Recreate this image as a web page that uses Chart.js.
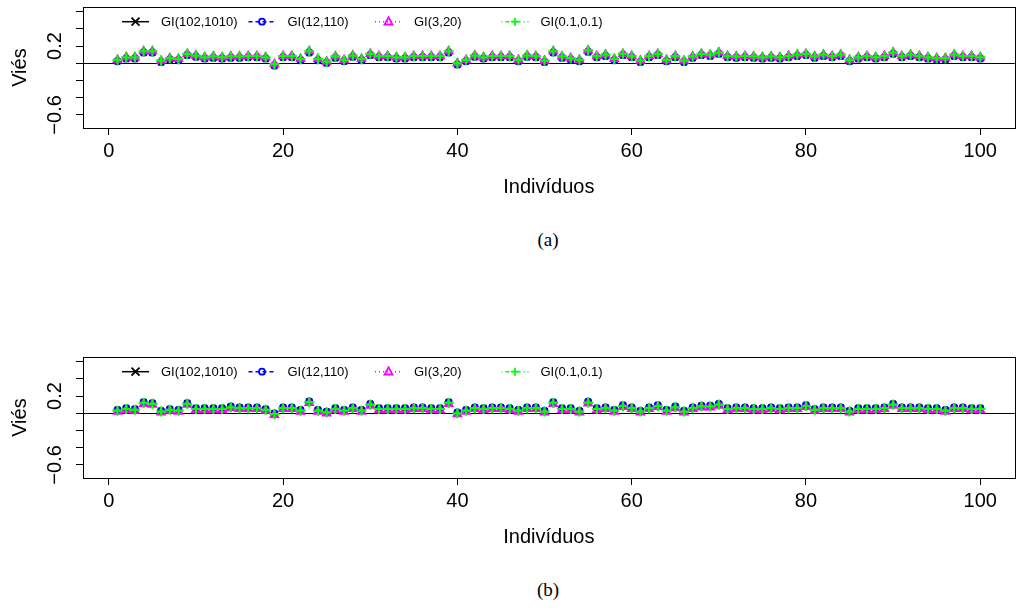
<!DOCTYPE html>
<html>
<head>
<meta charset="utf-8">
<script src="https://cdn.jsdelivr.net/npm/chart.js@4.4.1/dist/chart.umd.min.js"></script>
<style>
  html, body { margin: 0; padding: 0; background: #fff; overflow: hidden; width: 1016px; height: 612px; }
  .panel { position: absolute; left: 0; }
  #panelA { top: 0; }
  #panelB { top: 350px; }
  .cap { position: absolute; font-family: "Liberation Serif", "DejaVu Serif", serif; font-size: 19px; color: #000;
         transform: translate(-50%, -50%); white-space: nowrap; }
</style>
</head>
<body>
<div class="panel" id="panelA"><canvas id="chartA" width="1022" height="210"></canvas></div>
<div class="panel" id="panelB"><canvas id="chartB" width="1022" height="210"></canvas></div>
<div class="cap" style="left:548px; top:240px;">(a)</div>
<div class="cap" style="left:548px; top:590px;">(b)</div>
<script>
// Series names (legend)
const seriesNames = ['GI(102,1010)', 'GI(12,110)', 'GI(3,20)', 'GI(0.1,0.1)'];

// Individuals 1..100 (x axis)
const individuos = Array.from({ length: 100 }, (_, i) => i + 1);

// Axis ticks
const xTicks = [0, 20, 40, 60, 80, 100];
const yTicks = [-0.6, -0.4, -0.2, 0, 0.2, 0.4, 0.6];
const yTickLabels = ['\u22120.6', '', '', '', '0.2', '', ''];

// Panel (a): bias per individual
const biasA_102_1010 = [
  0.02,0.05,0.05,0.12,0.12,0.01,0.04,0.03,0.09,0.07,
  0.05,0.06,0.05,0.06,0.06,0.065,0.065,0.05,-0.03,0.065,
  0.065,0.03,0.12,0.03,0.0,0.06,0.02,0.07,0.03,0.09,
  0.065,0.065,0.05,0.05,0.065,0.065,0.065,0.065,0.12,-0.02,
  0.02,0.07,0.05,0.065,0.065,0.065,0.02,0.07,0.065,0.01,
  0.12,0.06,0.04,0.02,0.13,0.065,0.08,0.03,0.09,0.065,
  0.01,0.065,0.09,0.02,0.065,0.01,0.06,0.09,0.08,0.105,
  0.065,0.06,0.065,0.06,0.05,0.06,0.05,0.065,0.08,0.09,
  0.06,0.08,0.065,0.08,0.02,0.05,0.065,0.05,0.065,0.105,
  0.065,0.08,0.065,0.05,0.04,0.04,0.08,0.065,0.065,0.05];
const biasA_12_110 = [
  0.025,0.055,0.055,0.125,0.125,0.015,0.045,0.035,0.095,0.075,
  0.055,0.065,0.055,0.065,0.065,0.07,0.07,0.055,-0.025,0.07,
  0.07,0.035,0.125,0.035,0.005,0.065,0.025,0.075,0.035,0.095,
  0.07,0.07,0.055,0.055,0.07,0.07,0.07,0.07,0.125,-0.015,
  0.025,0.075,0.055,0.07,0.07,0.07,0.025,0.075,0.07,0.015,
  0.125,0.065,0.045,0.025,0.135,0.07,0.085,0.035,0.095,0.07,
  0.015,0.07,0.095,0.025,0.07,0.015,0.065,0.095,0.085,0.11,
  0.07,0.065,0.07,0.065,0.055,0.065,0.055,0.07,0.085,0.095,
  0.065,0.085,0.07,0.085,0.025,0.055,0.07,0.055,0.07,0.11,
  0.07,0.085,0.07,0.055,0.045,0.045,0.085,0.07,0.07,0.055];
const biasA_3_20 = [
  0.04,0.07,0.07,0.14,0.14,0.03,0.06,0.05,0.11,0.09,
  0.07,0.08,0.07,0.08,0.08,0.085,0.085,0.07,-0.01,0.085,
  0.085,0.05,0.14,0.05,0.02,0.08,0.04,0.09,0.05,0.11,
  0.085,0.085,0.07,0.07,0.085,0.085,0.085,0.085,0.14,0.0,
  0.04,0.09,0.07,0.085,0.085,0.085,0.04,0.09,0.085,0.03,
  0.14,0.08,0.06,0.04,0.15,0.085,0.10,0.05,0.11,0.085,
  0.03,0.085,0.11,0.04,0.085,0.03,0.08,0.11,0.10,0.125,
  0.085,0.08,0.085,0.08,0.07,0.08,0.07,0.085,0.10,0.11,
  0.08,0.10,0.085,0.10,0.04,0.07,0.085,0.07,0.085,0.125,
  0.085,0.10,0.085,0.07,0.06,0.06,0.10,0.085,0.085,0.07];
const biasA_01_01 = [
  0.04,0.07,0.07,0.14,0.14,0.03,0.06,0.05,0.11,0.09,
  0.07,0.08,0.07,0.08,0.08,0.085,0.085,0.07,-0.01,0.085,
  0.085,0.05,0.14,0.05,0.02,0.08,0.04,0.09,0.05,0.11,
  0.085,0.085,0.07,0.07,0.085,0.085,0.085,0.085,0.14,0.0,
  0.04,0.09,0.07,0.085,0.085,0.085,0.04,0.09,0.085,0.03,
  0.14,0.08,0.06,0.04,0.15,0.085,0.10,0.05,0.11,0.085,
  0.03,0.085,0.11,0.04,0.085,0.03,0.08,0.11,0.10,0.125,
  0.085,0.08,0.085,0.08,0.07,0.08,0.07,0.085,0.10,0.11,
  0.08,0.10,0.085,0.10,0.04,0.07,0.085,0.07,0.085,0.125,
  0.085,0.10,0.085,0.07,0.06,0.06,0.10,0.085,0.085,0.07];

// Panel (b): bias per individual
const biasB_102_1010 = [
  0.04,0.06,0.05,0.13,0.12,0.03,0.05,0.04,0.12,0.06,
  0.06,0.06,0.06,0.08,0.07,0.07,0.07,0.05,0.0,0.07,
  0.07,0.04,0.14,0.04,0.02,0.06,0.04,0.07,0.04,0.11,
  0.06,0.06,0.06,0.06,0.07,0.07,0.06,0.06,0.13,0.01,
  0.04,0.07,0.06,0.07,0.07,0.06,0.04,0.07,0.07,0.03,
  0.13,0.06,0.06,0.03,0.135,0.06,0.07,0.04,0.095,0.07,
  0.03,0.07,0.095,0.04,0.08,0.03,0.07,0.09,0.09,0.11,
  0.06,0.07,0.07,0.06,0.06,0.07,0.06,0.07,0.07,0.095,
  0.05,0.07,0.07,0.07,0.03,0.06,0.06,0.06,0.07,0.11,
  0.07,0.07,0.07,0.06,0.06,0.04,0.07,0.07,0.06,0.06];
const biasB_12_110 = [
  0.038,0.058,0.048,0.128,0.118,0.028,0.048,0.038,0.118,0.058,
  0.058,0.058,0.058,0.078,0.068,0.068,0.068,0.048,-0.002,0.068,
  0.068,0.038,0.138,0.038,0.018,0.058,0.038,0.068,0.038,0.108,
  0.058,0.058,0.058,0.058,0.068,0.068,0.058,0.058,0.128,0.008,
  0.038,0.068,0.058,0.068,0.068,0.058,0.038,0.068,0.068,0.028,
  0.128,0.058,0.058,0.028,0.133,0.058,0.068,0.038,0.093,0.068,
  0.028,0.068,0.093,0.038,0.078,0.028,0.068,0.088,0.088,0.108,
  0.058,0.068,0.068,0.058,0.058,0.068,0.058,0.068,0.068,0.093,
  0.048,0.068,0.068,0.068,0.028,0.058,0.058,0.058,0.068,0.108,
  0.068,0.068,0.068,0.058,0.058,0.038,0.068,0.068,0.058,0.058];
const biasB_3_20 = [
  0.02,0.04,0.03,0.11,0.10,0.01,0.03,0.02,0.10,0.04,
  0.04,0.04,0.04,0.06,0.05,0.05,0.05,0.03,-0.02,0.05,
  0.05,0.02,0.12,0.02,0.0,0.04,0.02,0.05,0.02,0.09,
  0.04,0.04,0.04,0.04,0.05,0.05,0.04,0.04,0.11,-0.01,
  0.02,0.05,0.04,0.05,0.05,0.04,0.02,0.05,0.05,0.01,
  0.11,0.04,0.04,0.01,0.115,0.04,0.05,0.02,0.075,0.05,
  0.01,0.05,0.075,0.02,0.06,0.01,0.05,0.07,0.07,0.09,
  0.04,0.05,0.05,0.04,0.04,0.05,0.04,0.05,0.05,0.075,
  0.03,0.05,0.05,0.05,0.01,0.04,0.04,0.04,0.05,0.09,
  0.05,0.05,0.05,0.04,0.04,0.02,0.05,0.05,0.04,0.04];
const biasB_01_01 = [
  0.03,0.05,0.04,0.12,0.11,0.02,0.04,0.03,0.11,0.05,
  0.05,0.05,0.05,0.07,0.06,0.06,0.06,0.04,-0.01,0.06,
  0.06,0.03,0.13,0.03,0.01,0.05,0.03,0.06,0.03,0.10,
  0.05,0.05,0.05,0.05,0.06,0.06,0.05,0.05,0.12,0.0,
  0.03,0.06,0.05,0.06,0.06,0.05,0.03,0.06,0.06,0.02,
  0.12,0.05,0.05,0.02,0.125,0.05,0.06,0.03,0.085,0.06,
  0.02,0.06,0.085,0.03,0.07,0.02,0.06,0.08,0.08,0.10,
  0.05,0.06,0.06,0.05,0.05,0.06,0.05,0.06,0.06,0.085,
  0.04,0.06,0.06,0.06,0.02,0.05,0.05,0.05,0.06,0.10,
  0.06,0.06,0.06,0.05,0.05,0.03,0.06,0.06,0.05,0.05];

// Visual style of each series (line + symbol), in legend order
const seriesStyles = [
  { color: '#000000', dash: [],           point: 'crossRot', radius: 4,   pw: 2,   order: 3 },
  { color: '#0000ff', dash: [4, 3],       point: 'circle',   radius: 3,   pw: 2,   order: 2 },
  { color: '#ff00ff', dash: [1, 3],       point: 'triangle', radius: 4.2, pw: 2,   order: 1 },
  { color: '#00ff00', dash: [1, 3, 4, 3], point: 'cross',    radius: 5,   pw: 2.2, order: 0 }
];

const FONT = '"Liberation Sans", Arial, Helvetica, sans-serif';

// draws one legend symbol at (x, y)
function legendSymbol(ctx, kind, x, y, r) {
  ctx.beginPath();
  if (kind === 'crossRot') {
    ctx.moveTo(x - r, y - r); ctx.lineTo(x + r, y + r);
    ctx.moveTo(x - r, y + r); ctx.lineTo(x + r, y - r);
  } else if (kind === 'circle') {
    ctx.arc(x, y, r, 0, Math.PI * 2);
  } else if (kind === 'triangle') {
    ctx.moveTo(x, y - r * 1.1); ctx.lineTo(x + r, y + r * 0.7); ctx.lineTo(x - r, y + r * 0.7); ctx.closePath();
  } else {
    ctx.moveTo(x - r, y); ctx.lineTo(x + r, y);
    ctx.moveTo(x, y - r); ctx.lineTo(x, y + r);
  }
  ctx.stroke();
}

const framePlugin = {
  id: 'rframe',
  beforeDatasetsDraw(chart) {
    const { ctx, chartArea: a, scales: { y } } = chart;
    const y0 = Math.round(y.getPixelForValue(0)) + 0.5;
    ctx.save();
    ctx.strokeStyle = '#000';
    ctx.lineWidth = 1;
    ctx.beginPath();
    ctx.moveTo(a.left, y0);
    ctx.lineTo(a.right, y0);
    ctx.stroke();
    ctx.restore();
  },
  afterDraw(chart) {
    const { ctx, chartArea: a, scales: { y } } = chart;
    ctx.save();
    // plot box
    ctx.strokeStyle = '#000';
    ctx.lineWidth = 1;
    ctx.strokeRect(Math.round(a.left) + 0.5, Math.round(a.top) + 0.5,
                   Math.round(a.right - a.left), Math.round(a.bottom - a.top));
    // y tick labels, written parallel to the axis
    ctx.fillStyle = '#000';
    ctx.font = '20px ' + FONT;
    ctx.textAlign = 'center';
    ctx.textBaseline = 'middle';
    yTicks.forEach((v, i) => {
      if (!yTickLabels[i]) return;
      const py = y.getPixelForValue(v);
      ctx.save();
      ctx.translate(55, py);
      ctx.rotate(-Math.PI / 2);
      ctx.fillText(yTickLabels[i], 0, 0);
      ctx.restore();
    });
    // legend across the top of the plot
    const ly = a.top + 14;
    ctx.font = '13px ' + FONT;
    ctx.textAlign = 'left';
    chart.data.datasets.forEach((ds, i) => {
      const st = seriesStyles[i];
      const x0 = a.left + 39 + i * 126.5;
      ctx.strokeStyle = st.color;
      ctx.lineWidth = 1.5;
      ctx.setLineDash(st.dash);
      ctx.beginPath();
      ctx.moveTo(x0, ly + 0.5);
      ctx.lineTo(x0 + 27, ly + 0.5);
      ctx.stroke();
      ctx.setLineDash([]);
      ctx.lineWidth = 1.8;
      legendSymbol(ctx, st.point, x0 + 13.5, ly + 0.5, st.point === 'circle' ? 3 : 4);
      ctx.fillStyle = '#000';
      ctx.fillText(ds.label, x0 + 39, ly + 1);
    });
    ctx.restore();
  }
};

function makePanel(canvasId, seriesList) {
  const datasets = seriesList.map((vals, i) => {
    const st = seriesStyles[i];
    return {
      label: seriesNames[i],
      data: vals.map((v, k) => ({ x: individuos[k], y: v })),
      showLine: false,
      borderColor: st.color,
      backgroundColor: 'rgba(0,0,0,0)',
      borderWidth: 1,
      borderDash: st.dash,
      pointStyle: st.point,
      pointRadius: st.radius,
      pointBorderWidth: st.pw,
      pointBorderColor: st.color,
      pointBackgroundColor: 'rgba(0,0,0,0)',
      tension: 0,
      order: st.order
    };
  });

  return new Chart(document.getElementById(canvasId), {
    type: 'line',
    data: { datasets },
    plugins: [framePlugin],
    options: {
      responsive: false,
      animation: false,
      devicePixelRatio: 1,
      layout: { padding: { top: 7, right: 1, left: 0, bottom: 0 } },
      plugins: { legend: { display: false }, tooltip: { enabled: false } },
      scales: {
        x: {
          type: 'linear',
          min: -2.96,
          max: 103.96,
          afterBuildTicks: s => { s.ticks = xTicks.map(v => ({ value: v })); },
          afterFit: s => { s.height = 82; },
          grid: { display: true, drawOnChartArea: false, drawTicks: true, tickLength: 7, color: '#000', lineWidth: 1 },
          border: { display: false },
          ticks: { color: '#000', font: { family: FONT, size: 20 }, padding: 4, maxRotation: 0, autoSkip: false },
          title: { display: true, text: 'Indivíduos', color: '#000', font: { family: FONT, size: 20 }, padding: { top: 0, bottom: 11 } }
        },
        y: {
          type: 'linear',
          min: -0.752,
          max: 0.652,
          afterBuildTicks: s => { s.ticks = yTicks.map(v => ({ value: v })); },
          afterFit: s => { s.width = 83; },
          grid: { display: true, drawOnChartArea: false, drawTicks: true, tickLength: 7, color: '#000', lineWidth: 1 },
          border: { display: false },
          ticks: { display: false },
          title: { display: true, text: 'Viés', color: '#000', font: { family: FONT, size: 20 }, padding: { top: 8, bottom: 0 } }
        }
      }
    }
  });
}

makePanel('chartA', [biasA_102_1010, biasA_12_110, biasA_3_20, biasA_01_01]);
makePanel('chartB', [biasB_102_1010, biasB_12_110, biasB_3_20, biasB_01_01]);
</script>
</body>
</html>
